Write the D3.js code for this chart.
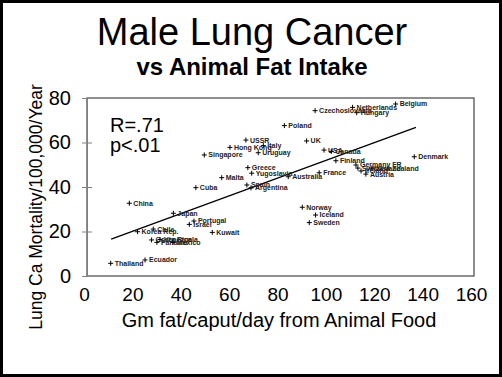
<!DOCTYPE html>
<html>
<head>
<meta charset="utf-8">
<script src="https://cdn.jsdelivr.net/npm/d3@7"></script>
<style>
  body { margin: 0; background: #fff; }
  svg { display: block; font-family: "Liberation Sans", Arial, sans-serif; }
</style>
</head>
<body>
<div id="chart"></div>
<script>
// countries and values
const countries = ["Belgium","Netherlands","Hungary","Czechoslovakia","Poland","UK","USSR","Italy",
  "Hong Kong","Uruguay","Singapore","USA","Canada","Finland","Denmark","Germany FR","Switzerland",
  "New Zealand","Ireland","Austria","France","Australia","Greece","Yugoslavia","Malta","Spain",
  "Argentina","Cuba","Norway","Iceland","Sweden","China","Japan","Portugal","Israel","Kuwait",
  "Chile","Korea Rep.","Costa Rica","Venezuela","Panama","Mexico","Ecuador","Thailand"];
const fatIntake = [127.6,109.8,111.5,94.3,81.6,90.8,65.7,72.9,
  59.1,70.8,48.5,98,101,102.9,135.3,111.2,112,
  117.8,113.3,115.3,96,83.2,66.5,68.1,55.7,66.1,
  67.8,45,89,94.5,91.9,17.5,35.7,44.2,42.3,51.8,
  27.4,20.9,26.7,30.2,28.9,35.5,24,9.8];
const mortality = [77.3,75.8,73.4,74.3,67.6,60.7,61.1,58.6,
  57.8,55.4,54.4,56.6,56,51.8,53.6,49.9,48.5,
  48.5,47.2,45.8,46.4,44.6,48.7,46.2,44.2,40.9,
  39.6,39.7,30.9,27.4,24,32.7,28.2,24.7,23.2,19.6,
  21.1,19.9,16.2,16.4,15.1,15.1,7.2,5.7];
const trendX = [10, 136];
const trendY = [16.6, 66.8];
const xTicks = [0,20,40,60,80,100,120,140,160];
const yTicks = [0,20,40,60,80];

const W = 502, H = 377;
const m = {t:98, r:28, b:101, l:87};

const svg = d3.select("#chart").append("svg")
  .attr("width", W).attr("height", H);

svg.append("rect").attr("width", W).attr("height", H).attr("fill", "#fff");

const x = d3.scaleLinear().domain([0,160]).range([m.l, W - m.r]);
const y = d3.scaleLinear().domain([0,80]).range([H - m.b, m.t]);

// titles
svg.append("text").attr("x", 252).attr("y", 45).attr("text-anchor","middle")
  .attr("font-size", 38).text("Male Lung Cancer");
svg.append("text").attr("x", 252).attr("y", 75).attr("text-anchor","middle")
  .attr("font-size", 24).attr("font-weight","bold").text("vs Animal Fat Intake");

// plot box
svg.append("rect")
  .attr("x", x(0)).attr("y", y(80))
  .attr("width", x(160) - x(0)).attr("height", y(0) - y(80))
  .attr("fill","none").attr("stroke","#444").attr("stroke-width",1.2);

// y axis
const yAxis = svg.append("g").attr("transform", `translate(${x(0)},0)`)
  .call(d3.axisLeft(y).tickValues(yTicks).tickSize(5).tickPadding(11));
yAxis.select(".domain").attr("stroke","#808080");
yAxis.selectAll(".tick line").attr("stroke","#808080").attr("x1", -5)
  .attr("x2", d => (d === 0 || d === 80) ? 0 : 5);
yAxis.selectAll(".tick text").attr("font-size", 20).attr("fill","#000")
  .attr("font-family","Liberation Sans, Arial, sans-serif");

// x axis labels (no tick marks)
const xAxis = svg.append("g").attr("transform", `translate(-3,${y(0)})`)
  .call(d3.axisBottom(x).tickValues(xTicks).tickSize(0).tickPadding(12));
xAxis.select(".domain").remove();
xAxis.selectAll(".tick text").attr("font-size", 19).attr("fill","#000")
  .attr("font-family","Liberation Sans, Arial, sans-serif");

// axis titles
svg.append("text").attr("x", 279).attr("y", 327).attr("text-anchor","middle")
  .attr("font-size", 20).text("Gm fat/caput/day from Animal Food");
svg.append("text").attr("transform","translate(42,207) rotate(-90)")
  .attr("text-anchor","middle").attr("font-size", 17.5)
  .text("Lung Ca Mortality/100,000/Year");

// stats
svg.append("text").attr("x", 110).attr("y", 132).attr("font-size", 20).text("R=.71");
svg.append("text").attr("x", 110).attr("y", 152).attr("font-size", 20).text("p<.01");

// regression line
svg.append("line")
  .attr("x1", x(trendX[0])).attr("y1", y(trendY[0]))
  .attr("x2", x(trendX[1])).attr("y2", y(trendY[1]))
  .attr("stroke","#000").attr("stroke-width",1.3);

// points
const data = countries.map((c,i) => ({name:c, fat:fatIntake[i], mort:mortality[i]}));
const nodes = svg.selectAll(".node").data(data).enter().append("g")
  .attr("class","node")
  .attr("transform", d => `translate(${x(d.fat)},${y(d.mort)})`);
nodes.append("path").attr("d","M-2.5,0H2.5M0,-2.5V2.5")
  .attr("stroke","#000").attr("stroke-width",1);
nodes.append("text").attr("x", 4).attr("y", 0).attr("dy","0.35em")
  .attr("font-size", 7).attr("font-weight","bold").attr("fill","#222")
  .text(d => d.name);

// outer frame
svg.append("rect").attr("x",1.5).attr("y",1.5).attr("width",W-3).attr("height",H-3)
  .attr("fill","none").attr("stroke","#000").attr("stroke-width",3);
</script>
</body>
</html>
